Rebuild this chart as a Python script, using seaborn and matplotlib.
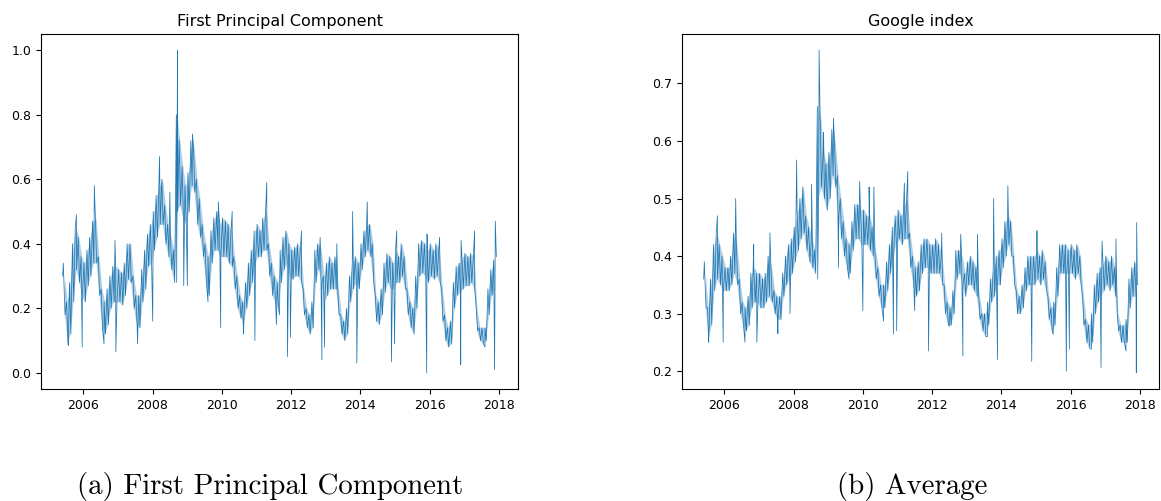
import matplotlib
matplotlib.use("Agg")
import matplotlib.pyplot as plt
import matplotlib.dates as mdates
import numpy as np
import pandas as pd
import seaborn as sns

# Monthly envelope (upper, lower) of the daily series, Jun 2005 .. Nov 2017
months = pd.date_range("2005-06-01", "2017-11-01", freq="MS")

pc1_hi = [0.30, 0.22, 0.28, 0.40, 0.45, 0.42, 0.36,
          0.34, 0.38, 0.42, 0.47, 0.48, 0.36, 0.26, 0.22, 0.26, 0.30, 0.33, 0.33,
          0.32, 0.31, 0.34, 0.40, 0.40, 0.30, 0.24, 0.24, 0.32, 0.38, 0.43, 0.46,
          0.50, 0.55, 0.58, 0.60, 0.52, 0.46, 0.42, 0.38, 0.80, 0.72, 0.64, 0.58,
          0.62, 0.72, 0.70, 0.60, 0.54, 0.46, 0.40, 0.36, 0.44, 0.48, 0.50, 0.46,
          0.48, 0.47, 0.46, 0.44, 0.36, 0.30, 0.24, 0.22, 0.28, 0.34, 0.38, 0.44,
          0.46, 0.44, 0.48, 0.50, 0.40, 0.34, 0.30, 0.28, 0.38, 0.42, 0.44, 0.40,
          0.38, 0.39, 0.40, 0.38, 0.26, 0.20, 0.18, 0.22, 0.38, 0.40, 0.38, 0.30,
          0.34, 0.36, 0.34, 0.36, 0.26, 0.18, 0.16, 0.20, 0.30, 0.34, 0.36, 0.34,
          0.40, 0.44, 0.46, 0.46, 0.40, 0.24, 0.22, 0.26, 0.34, 0.37, 0.36, 0.34,
          0.38, 0.36, 0.40, 0.36, 0.26, 0.22, 0.20, 0.30, 0.40, 0.41, 0.40, 0.38,
          0.40, 0.38, 0.40, 0.38, 0.26, 0.18, 0.14, 0.16, 0.28, 0.33, 0.34, 0.36,
          0.37, 0.36, 0.37, 0.36, 0.20, 0.14, 0.14, 0.14, 0.26, 0.32, 0.35]
pc1_lo = [0.18, 0.10, 0.12, 0.22, 0.32, 0.28, 0.24,
          0.22, 0.27, 0.30, 0.34, 0.34, 0.24, 0.14, 0.12, 0.15, 0.20, 0.22, 0.22,
          0.22, 0.21, 0.24, 0.29, 0.28, 0.20, 0.15, 0.14, 0.22, 0.26, 0.33, 0.34,
          0.38, 0.42, 0.46, 0.46, 0.40, 0.36, 0.32, 0.28, 0.50, 0.52, 0.48, 0.46,
          0.50, 0.58, 0.56, 0.46, 0.42, 0.36, 0.28, 0.24, 0.34, 0.38, 0.38, 0.36,
          0.36, 0.36, 0.34, 0.33, 0.26, 0.20, 0.17, 0.16, 0.20, 0.24, 0.28, 0.34,
          0.36, 0.36, 0.38, 0.38, 0.30, 0.24, 0.22, 0.20, 0.28, 0.32, 0.34, 0.30,
          0.29, 0.30, 0.30, 0.28, 0.18, 0.14, 0.12, 0.14, 0.28, 0.32, 0.28, 0.22,
          0.24, 0.26, 0.26, 0.26, 0.18, 0.12, 0.10, 0.12, 0.22, 0.26, 0.28, 0.26,
          0.32, 0.36, 0.38, 0.36, 0.28, 0.16, 0.15, 0.18, 0.25, 0.28, 0.26, 0.26,
          0.28, 0.28, 0.30, 0.26, 0.18, 0.14, 0.12, 0.20, 0.30, 0.31, 0.30, 0.28,
          0.30, 0.29, 0.30, 0.28, 0.16, 0.10, 0.08, 0.09, 0.20, 0.24, 0.25, 0.26,
          0.27, 0.27, 0.28, 0.26, 0.13, 0.10, 0.09, 0.10, 0.18, 0.24, 0.26]

google_hi = [0.37, 0.31, 0.36, 0.42, 0.44, 0.42, 0.40,
             0.38, 0.38, 0.40, 0.44, 0.42, 0.36, 0.32, 0.31, 0.33, 0.37, 0.38, 0.37,
             0.37, 0.36, 0.37, 0.40, 0.38, 0.34, 0.33, 0.33, 0.37, 0.40, 0.42, 0.43,
             0.45, 0.48, 0.50, 0.52, 0.47, 0.45, 0.43, 0.41, 0.66, 0.64, 0.58, 0.56,
             0.58, 0.62, 0.60, 0.54, 0.50, 0.46, 0.43, 0.42, 0.46, 0.49, 0.49, 0.48,
             0.48, 0.47, 0.47, 0.45, 0.41, 0.38, 0.35, 0.35, 0.39, 0.42, 0.45, 0.47,
             0.48, 0.47, 0.49, 0.50, 0.44, 0.40, 0.38, 0.39, 0.42, 0.43, 0.43, 0.42,
             0.42, 0.43, 0.42, 0.40, 0.35, 0.32, 0.31, 0.34, 0.41, 0.41, 0.40, 0.37,
             0.39, 0.40, 0.39, 0.38, 0.33, 0.30, 0.30, 0.32, 0.36, 0.38, 0.40, 0.41,
             0.43, 0.46, 0.47, 0.46, 0.40, 0.34, 0.33, 0.35, 0.38, 0.40, 0.40, 0.40,
             0.41, 0.40, 0.41, 0.39, 0.33, 0.31, 0.32, 0.38, 0.42, 0.42, 0.42, 0.41,
             0.42, 0.41, 0.42, 0.40, 0.33, 0.29, 0.28, 0.30, 0.35, 0.37, 0.38, 0.39,
             0.40, 0.39, 0.40, 0.38, 0.30, 0.28, 0.28, 0.29, 0.36, 0.38, 0.39]
google_lo = [0.31, 0.26, 0.28, 0.34, 0.36, 0.35, 0.34,
             0.34, 0.34, 0.35, 0.37, 0.35, 0.30, 0.28, 0.27, 0.28, 0.31, 0.32, 0.32,
             0.31, 0.31, 0.32, 0.33, 0.32, 0.30, 0.29, 0.29, 0.33, 0.35, 0.36, 0.37,
             0.39, 0.41, 0.43, 0.44, 0.41, 0.39, 0.38, 0.37, 0.50, 0.52, 0.50, 0.48,
             0.50, 0.54, 0.52, 0.47, 0.43, 0.40, 0.38, 0.37, 0.41, 0.43, 0.43, 0.42,
             0.42, 0.42, 0.41, 0.40, 0.36, 0.33, 0.31, 0.31, 0.34, 0.37, 0.40, 0.42,
             0.43, 0.42, 0.43, 0.43, 0.38, 0.35, 0.33, 0.34, 0.37, 0.38, 0.38, 0.37,
             0.37, 0.37, 0.37, 0.35, 0.30, 0.28, 0.28, 0.30, 0.36, 0.37, 0.35, 0.33,
             0.35, 0.35, 0.34, 0.33, 0.29, 0.27, 0.26, 0.28, 0.32, 0.33, 0.35, 0.35,
             0.38, 0.40, 0.42, 0.40, 0.35, 0.30, 0.30, 0.31, 0.34, 0.35, 0.35, 0.35,
             0.36, 0.35, 0.36, 0.34, 0.29, 0.27, 0.28, 0.33, 0.37, 0.37, 0.37, 0.37,
             0.37, 0.36, 0.37, 0.35, 0.28, 0.25, 0.24, 0.25, 0.30, 0.32, 0.33, 0.34,
             0.35, 0.34, 0.35, 0.33, 0.27, 0.25, 0.25, 0.25, 0.31, 0.33, 0.33]

# Isolated daily extremes (date, value)
pc1_spikes = [
    ("2005-05-28", 0.30), ("2005-06-04", 0.34), ("2005-07-26", 0.085),
    ("2005-10-20", 0.49), ("2005-12-20", 0.08), ("2006-04-27", 0.58),
    ("2006-08-07", 0.09), ("2006-12-01", 0.41), ("2006-12-10", 0.065),
    ("2007-07-27", 0.09), ("2008-01-03", 0.16), ("2008-03-15", 0.67),
    ("2008-07-02", 0.56), ("2008-09-12", 0.28), ("2008-09-20", 1.00),
    ("2008-11-25", 0.27), ("2009-01-02", 0.27), ("2009-02-25", 0.74),
    ("2009-08-08", 0.22), ("2009-11-25", 0.53), ("2009-12-20", 0.14),
    ("2010-04-20", 0.50), ("2010-08-18", 0.12), ("2010-12-16", 0.10),
    ("2011-04-20", 0.59), ("2011-07-31", 0.15), ("2011-09-02", 0.18),
    ("2011-11-25", 0.05), ("2011-12-25", 0.11), ("2012-04-20", 0.44),
    ("2012-11-03", 0.42), ("2012-11-22", 0.04), ("2012-12-20", 0.08),
    ("2013-04-28", 0.40), ("2013-10-12", 0.50), ("2013-11-25", 0.03),
    ("2014-03-15", 0.53), ("2014-11-25", 0.034), ("2014-12-28", 0.09),
    ("2015-01-20", 0.44), ("2015-12-02", 0.00), ("2015-12-06", 0.43),
    ("2016-04-16", 0.42), ("2016-11-25", 0.025), ("2016-11-29", 0.41),
    ("2017-04-20", 0.44), ("2017-08-08", 0.08), ("2017-11-17", 0.01),
    ("2017-11-25", 0.47), ("2017-12-06", 0.36),
]
google_spikes = [
    ("2005-05-28", 0.36), ("2005-06-04", 0.39), ("2005-07-20", 0.25),
    ("2005-10-20", 0.47), ("2005-12-20", 0.25), ("2006-05-01", 0.50),
    ("2006-08-07", 0.25), ("2006-11-07", 0.42), ("2006-12-10", 0.25),
    ("2007-04-27", 0.44), ("2007-07-20", 0.265), ("2007-11-25", 0.30),
    ("2008-02-03", 0.567), ("2008-07-09", 0.525), ("2008-09-12", 0.36),
    ("2008-09-27", 0.758), ("2008-11-13", 0.615), ("2009-02-25", 0.64),
    ("2009-04-20", 0.38), ("2009-08-08", 0.36), ("2009-11-28", 0.53),
    ("2010-01-01", 0.305), ("2010-03-08", 0.52), ("2010-04-28", 0.52),
    ("2010-08-08", 0.287), ("2010-11-20", 0.264), ("2010-12-24", 0.27),
    ("2011-03-15", 0.527), ("2011-04-20", 0.547), ("2011-07-02", 0.305),
    ("2011-11-25", 0.235), ("2012-04-12", 0.44), ("2012-07-02", 0.278),
    ("2012-10-30", 0.438), ("2012-11-22", 0.226), ("2013-04-24", 0.438),
    ("2013-08-08", 0.26), ("2013-10-12", 0.50), ("2013-11-22", 0.22),
    ("2014-03-11", 0.522), ("2014-11-18", 0.217), ("2015-01-12", 0.444),
    ("2015-07-02", 0.264), ("2015-11-18", 0.20), ("2015-12-20", 0.238),
    ("2016-08-08", 0.238), ("2016-11-18", 0.206), ("2016-11-29", 0.426),
    ("2017-04-24", 0.43), ("2017-08-08", 0.235), ("2017-11-25", 0.197),
    ("2017-11-29", 0.458), ("2017-12-06", 0.35),
]

titles = ["First Principal Component", "Google index"]
captions = ["(a) First Principal Component", "(b) Average"]

BLUE = "#1f77b4"


def build_series(hi, lo, spikes):
    dates = []
    vals = []
    for m, h, l in zip(months, hi, lo):
        dates += [m + pd.Timedelta(days=7), m + pd.Timedelta(days=21)]
        vals += [h, l]
    for d, v in spikes:
        dates.append(pd.Timestamp(d))
        vals.append(v)
    df = pd.DataFrame({"date": dates, "value": vals})
    return df.sort_values("date").reset_index(drop=True)


series = [build_series(pc1_hi, pc1_lo, pc1_spikes),
          build_series(google_hi, google_lo, google_spikes)]
envelopes = [(pc1_hi, pc1_lo), (google_hi, google_lo)]

fig = plt.figure(figsize=(11.61, 5.01), dpi=100)
positions = [[0.0353, 0.2236, 0.4109, 0.7086],
             [0.5874, 0.2236, 0.4109, 0.7086]]
caption_x = [0.233, 0.786]

for pos, df, (hi, lo), title, cap, cx in zip(positions, series, envelopes,
                                             titles, captions, caption_x):
    ax = fig.add_axes(pos)
    mid = months + pd.Timedelta(days=14)
    # Shaded daily range within each month
    ax.fill_between(mid, lo, hi, color=BLUE, alpha=0.35, linewidth=0)
    sns.lineplot(data=df, x="date", y="value", ax=ax, color=BLUE,
                 linewidth=0.55, estimator=None, sort=True)
    ax.set_xlabel("")
    ax.set_ylabel("")
    ax.set_title(title, fontsize=11.5)
    ax.xaxis.set_major_locator(mdates.YearLocator(2))
    ax.xaxis.set_major_formatter(mdates.DateFormatter("%Y"))
    ax.tick_params(labelsize=9)
    fig.text(cx, 0.013, cap, family="cmr10", fontsize=20.8,
             ha="center", va="baseline")

fig.savefig("out.png", dpi=100)
